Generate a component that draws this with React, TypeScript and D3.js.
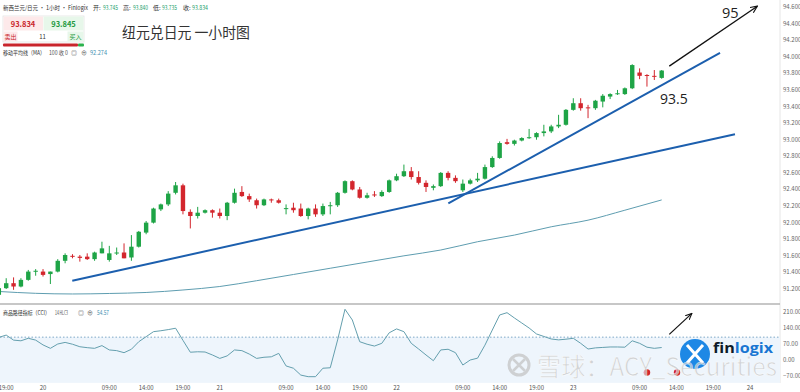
import React from 'react';
import * as d3 from 'd3';

// ---- data ----
const candleStart = -1; // first candle index (hour offset from 19th 19:00)
const candleOpen = [91.13, 91.21, 91.27, 91.23, 91.31, 91.41, 91.41, 91.38, 91.41, 91.54, 91.60, 91.59, 91.59, 91.56, 91.63, 91.55, 91.63, 91.64, 91.58, 91.71, 91.88, 92.00, 92.16, 92.22, 92.36, 92.45, 92.13, 92.08, 92.12, 92.15, 92.12, 92.08, 92.24, 92.37, 92.32, 92.27, 92.21, 92.28, 92.27, 92.17, 92.18, 92.17, 92.08, 92.17, 92.10, 92.20, 92.21, 92.36, 92.50, 92.40, 92.30, 92.34, 92.32, 92.37, 92.51, 92.56, 92.62, 92.55, 92.48, 92.42, 92.44, 92.60, 92.54, 92.39, 92.47, 92.51, 92.53, 92.67, 92.78, 92.97, 92.95, 92.99, 93.02, 93.03, 93.08, 93.10, 93.16, 93.18, 93.36, 93.44, 93.39, 93.38, 93.46, 93.52, 93.55, 93.55, 93.62, 93.81, 93.78, 93.77, 93.745];
const candleHigh = [91.23, 91.33, 91.34, 91.33, 91.43, 91.44, 91.44, 91.41, 91.56, 91.63, 91.62, 91.61, 91.63, 91.65, 91.77, 91.72, 91.70, 91.75, 91.85, 91.90, 92.02, 92.18, 92.23, 92.38, 92.49, 92.47, 92.16, 92.19, 92.16, 92.16, 92.17, 92.25, 92.41, 92.44, 92.35, 92.29, 92.29, 92.29, 92.29, 92.22, 92.24, 92.23, 92.18, 92.22, 92.23, 92.25, 92.37, 92.51, 92.51, 92.43, 92.36, 92.38, 92.39, 92.52, 92.59, 92.70, 92.67, 92.62, 92.51, 92.46, 92.61, 92.62, 92.57, 92.52, 92.53, 92.60, 92.70, 92.80, 92.98, 93.01, 93.00, 93.03, 93.13, 93.09, 93.18, 93.18, 93.30, 93.37, 93.50, 93.50, 93.42, 93.48, 93.55, 93.56, 93.60, 93.63, 93.91, 93.86, 93.79, 93.84, 93.840];
const candleLow = [91.12, 91.20, 91.19, 91.22, 91.30, 91.36, 91.35, 91.26, 91.40, 91.51, 91.57, 91.53, 91.55, 91.54, 91.63, 91.53, 91.61, 91.57, 91.54, 91.70, 91.86, 91.99, 92.14, 92.20, 92.34, 92.10, 91.93, 92.05, 92.11, 92.06, 92.05, 92.03, 92.23, 92.31, 92.25, 92.17, 92.20, 92.24, 92.23, 92.10, 92.12, 92.07, 92.04, 92.07, 92.08, 92.10, 92.19, 92.35, 92.39, 92.29, 92.29, 92.31, 92.31, 92.36, 92.50, 92.55, 92.52, 92.46, 92.37, 92.39, 92.43, 92.51, 92.48, 92.37, 92.46, 92.49, 92.52, 92.66, 92.77, 92.94, 92.93, 92.98, 93.01, 93.00, 93.04, 93.08, 93.14, 93.17, 93.35, 93.35, 93.26, 93.36, 93.39, 93.49, 93.54, 93.54, 93.61, 93.73, 93.64, 93.72, 93.735];
const candleClose = [91.21, 91.27, 91.23, 91.31, 91.41, 91.42, 91.37, 91.41, 91.54, 91.61, 91.595, 91.575, 91.56, 91.64, 91.69, 91.63, 91.64, 91.57, 91.71, 91.89, 92.00, 92.17, 92.22, 92.35, 92.45, 92.14, 92.08, 92.12, 92.15, 92.12, 92.08, 92.24, 92.36, 92.32, 92.28, 92.21, 92.28, 92.27, 92.24, 92.175, 92.15, 92.08, 92.17, 92.10, 92.20, 92.21, 92.36, 92.50, 92.40, 92.30, 92.33, 92.33, 92.37, 92.51, 92.56, 92.62, 92.55, 92.48, 92.43, 92.44, 92.60, 92.54, 92.50, 92.47, 92.51, 92.53, 92.67, 92.78, 92.96, 92.95, 92.99, 93.02, 93.03, 93.08, 93.10, 93.16, 93.18, 93.36, 93.44, 93.38, 93.38, 93.47, 93.53, 93.55, 93.56, 93.62, 93.90, 93.77, 93.77, 93.76, 93.834];
const cciValues = [99, 109, 87, 84, 95, 87, 66, 51, 70, 77, 69, 58, 54, 51, 63, 44, 41, 32, 47, 80, 102, 124, 128, 133, 139, 86, 34, 36, 35, 22, 7, 18, 44, 41, 26, 7, 12, 14, 29, -26, -36, -66, -73, -73, -36, -34, 88, 222, 175, 80, 69, 61, 73, 119, 136, 124, 73, 48, 22, -3, 44, 47, 32, -22, 0, 8, 65, 131, 197, 207, 184, 162, 140, 114, 103, 92, 88, 91, 95, 73, 48, 53, 55, 57, 57, 56, 84, 73, 56, 51, 54.57];
const maIndex = [-1, 4, 9, 14, 19, 24, 29, 34, 39, 44, 49, 54, 59, 64, 69, 74, 79, 84, 89];
const maValues = [91.17, 91.148, 91.14, 91.146, 91.158, 91.188, 91.23, 91.30, 91.375, 91.45, 91.525, 91.60, 91.67, 91.77, 91.85, 91.95, 92.03, 92.15, 92.274];
const priceTicks = [91.2, 91.4, 91.6, 91.8, 92.0, 92.2, 92.4, 92.6, 92.8, 93.0, 93.2, 93.4, 93.6, 93.8, 94.0, 94.2, 94.4, 94.6];
const cciTicks = [-70, 0, 70, 140, 210];
const timeTickIndex = [0, 5, 14, 19, 24, 29, 38, 43, 48, 53, 62, 67, 72, 77, 86, 91, 96, 101];
const timeTickLabels = ['19:00', '20', '09:00', '14:00', '19:00', '21', '09:00', '14:00', '19:00', '22', '09:00', '14:00', '19:00', '23', '09:00', '14:00', '19:00', '24'];
// trend lines: [startIndex, startPrice, endIndex, endPrice]
const trendLineA = [8.97, 91.30, 98.95, 93.067];
const trendLineB = [60.03, 92.233, 96.92, 94.047];
const arrowMain = [90.03, 93.887, 101.99, 94.61];
const arrowCci = [90.03, 112, 93.1, 204];
const label95 = [98.3, 94.465, '95'];
const label935 = [88.77, 93.429, '93.5'];

const FONT = '"Noto Sans CJK SC", "Noto Sans", sans-serif';
const UP = '#1ea446';
const DOWN = '#d3262d';
const TREND = '#1c5fae';

export default function App() {
  const x = d3.scaleLinear().domain([0, 101]).range([6.2, 750.07]);
  const y = d3.scaleLinear().domain([91.2, 94.6]).range([289, 7]);
  const yc = d3.scaleLinear().domain([-70, 210]).range([376, 312]);
  const fmtP = d3.format('.3f');
  const fmtC = d3.format('.2f');

  const candles = candleOpen.map((o, k) => ({
    i: candleStart + k, o, h: candleHigh[k], l: candleLow[k], c: candleClose[k],
  }));

  const maLine = d3.line<number>()
    .x((_, k) => x(maIndex[k]))
    .y((d) => y(d))
    .curve(d3.curveMonotoneX)(maValues) || '';

  const cciLine = d3.line<number>()
    .x((_, k) => x(candleStart + k))
    .y((d) => yc(d))(cciValues) || '';

  const bw = 4.4;
  const fit = { lengthAdjust: 'spacingAndGlyphs' as const };

  return (
    <svg width={800} height={392} style={{ position: 'absolute', left: 0, top: 0, background: '#fff' }} fontFamily={FONT}>
      <defs>
        <clipPath id="mainClip"><rect x={0} y={0} width={780} height={303} /></clipPath>
        <clipPath id="cciClip"><rect x={0} y={305} width={780} height={78} /></clipPath>
        <marker id="arr" viewBox="0 0 10 10" refX={9} refY={5} markerWidth={6} markerHeight={6} orient="auto">
          <path d="M0,1 L9,5 L0,9" fill="none" stroke="#111" strokeWidth={1.5} />
        </marker>
      </defs>
      <rect x={0} y={0} width={800} height={392} fill="#fff" />

      {/* right axis border */}
      <line x1={780} x2={780} y1={0} y2={383} stroke="#e6e6e6" />

      {/* main panel */}
      <g clipPath="url(#mainClip)">
        <path d={maLine} fill="none" stroke="#5e9db0" strokeWidth={1} />
        {candles.map((d) => {
          const up = d.c >= d.o;
          const col = up ? UP : DOWN;
          const cx = x(d.i);
          const top = y(Math.max(d.o, d.c));
          const bot = y(Math.min(d.o, d.c));
          return (
            <g key={d.i}>
              <line x1={cx} x2={cx} y1={y(d.h)} y2={y(d.l)} stroke={col} strokeWidth={1} />
              <rect x={cx - bw / 2} y={top} width={bw} height={Math.max(1, bot - top)} fill={col} />
            </g>
          );
        })}
        <line x1={x(trendLineA[0])} y1={y(trendLineA[1])} x2={x(trendLineA[2])} y2={y(trendLineA[3])} stroke={TREND} strokeWidth={2} />
        <line x1={x(trendLineB[0])} y1={y(trendLineB[1])} x2={x(trendLineB[2])} y2={y(trendLineB[3])} stroke={TREND} strokeWidth={2} />
        <line x1={x(arrowMain[0])} y1={y(arrowMain[1])} x2={x(arrowMain[2])} y2={y(arrowMain[3])} stroke="#111" strokeWidth={1.3} markerEnd="url(#arr)" />
      </g>
      <text x={x(label95[0] as number)} y={y(label95[1] as number)} fontSize={14.5} fill="#222" textAnchor="middle" fontFamily="'Open Sans', sans-serif">{label95[2]}</text>
      <text x={x(label935[0] as number)} y={y(label935[1] as number)} fontSize={14} fill="#222" fontFamily="'Open Sans', sans-serif">{label935[2]}</text>

      {/* price axis */}
      {priceTicks.map((t) => (
        <text key={t} x={783} y={y(t) + 2} fontSize={6} fill="#666">{fmtP(t)}</text>
      ))}

      {/* header */}
      <text x={3} y={10} fontSize={6} fill="#333" textLength={85} {...fit}>新西兰元/日元 · 1小时 · Finlogix</text>
      <text x={93} y={10} fontSize={6} fill="#333">开:</text>
      <text x={103} y={10} fontSize={6} fill="#22a06b" textLength={15} {...fit}>93.745</text>
      <text x={123} y={10} fontSize={6} fill="#333">高:</text>
      <text x={133} y={10} fontSize={6} fill="#22a06b" textLength={15} {...fit}>93.840</text>
      <text x={153} y={10} fontSize={6} fill="#333">低:</text>
      <text x={162} y={10} fontSize={6} fill="#22a06b" textLength={15} {...fit}>93.735</text>
      <text x={183} y={10} fontSize={6} fill="#333">收:</text>
      <text x={192} y={10} fontSize={6} fill="#22a06b" textLength={16} {...fit}>93.834</text>

      {/* buy/sell box */}
      <rect x={3} y={16} width={81} height={26} fill="#fff" stroke="#e3e3e3" strokeWidth={0.8} />
      <rect x={3.5} y={16.5} width={39.5} height={14} fill="#fde9ea" />
      <rect x={43.5} y={16.5} width={40} height={14} fill="#e7f7ea" />
      <text x={23} y={26.5} fontSize={7.5} fill="#c9252c" textAnchor="middle" fontWeight={600}>93.834</text>
      <text x={63.5} y={26.5} fontSize={7.5} fill="#1e9a3e" textAnchor="middle" fontWeight={600}>93.845</text>
      <rect x={3.5} y={31.5} width={14} height={10} fill="#fde9ea" />
      <rect x={67.5} y={31.5} width={16} height={10} fill="#e7f7ea" />
      <text x={10.5} y={39} fontSize={6} fill="#c9252c" textAnchor="middle">卖出</text>
      <text x={42.5} y={39} fontSize={6} fill="#333" textAnchor="middle">11</text>
      <text x={75.5} y={39} fontSize={6} fill="#1e9a3e" textAnchor="middle">买入</text>
      <rect x={3} y={43.5} width={75} height={3} fill="#c9252c" rx={1} />
      <rect x={78} y={43.5} width={6} height={3} fill="#2bb24c" rx={1} />

      <text x={3} y={54.5} fontSize={6} fill="#333" textLength={42} {...fit}>移动平均线（MA）</text>
      <text x={49} y={54.5} fontSize={6} fill="#555" textLength={19} {...fit}>100 收 0</text>
      <text x={71} y={54.5} fontSize={6} fill="#555">◎</text>
      <text x={81} y={54.5} fontSize={6} fill="#555">⊕</text>
      <text x={90} y={54.5} fontSize={6} fill="#3d8fb0" textLength={17} {...fit}>92.274</text>

      {/* title */}
      <text x={122} y={38} fontSize={14.5} fill="#333" textLength={128} {...fit}>纽元兑日元 一小时图</text>

      {/* separator */}
      <line x1={0} x2={780} y1={304} y2={304} stroke="#b5b5b5" strokeWidth={1.5} />

      {/* CCI panel */}
      <g clipPath="url(#cciClip)">
        <rect x={0} y={yc(100)} width={780} height={yc(-100) - yc(100)} fill="#eef5fc" />
        <line x1={0} x2={780} y1={yc(100)} y2={yc(100)} stroke="#5f93b8" strokeWidth={0.8} strokeDasharray="1.5,2" />
        <path d={cciLine} fill="none" stroke="#649fae" strokeWidth={1} />
      </g>
      <line x1={x(arrowCci[0])} y1={yc(arrowCci[1])} x2={x(arrowCci[2])} y2={yc(arrowCci[3])} stroke="#111" strokeWidth={1.2} markerEnd="url(#arr)" />
      {cciTicks.map((t) => (
        <text key={t} x={783} y={yc(t) + 2} fontSize={6} fill="#666">{fmtC(t)}</text>
      ))}
      <text x={3} y={315} fontSize={6} fill="#333" textLength={47} {...fit}>商品路径指标（CCI）</text>
      <text x={55} y={315} fontSize={6} fill="#555" textLength={13} {...fit}>14 HLC3</text>
      <text x={78} y={315} fontSize={6} fill="#555">◎</text>
      <text x={87} y={315} fontSize={6} fill="#555">⊕</text>
      <text x={97} y={315} fontSize={6} fill="#3d8fb0" textLength={12} {...fit}>54.57</text>

      {/* time axis */}
      {timeTickIndex.map((t, k) => (
        <text key={k} x={x(t)} y={390} fontSize={6} fill="#555" textAnchor="middle">{timeTickLabels[k]}</text>
      ))}

      {/* logo + markers */}
      <circle cx={647} cy={372.5} r={3.2} fill="#d3262d" />
      <circle cx={677} cy={372.5} r={3.2} fill="#d3262d" />
      <circle cx={695} cy={354} r={15} fill="#1e88e5" />
      <path d="M687,345 L703,363 M703,345 L687,363" stroke="#fff" strokeWidth={3} />
      <text x={713} y={353} fontSize={15} fontWeight={700} fill="#0d1b2a" fontFamily="'Open Sans', sans-serif" textLength={60} {...fit}>fin<tspan fill="#1976d2">logix</tspan></text>

      {/* watermark */}
      <g opacity={0.75}>
        <circle cx={519} cy={365} r={10} fill="none" stroke="#c4c4c4" strokeWidth={3} />
        <path d="M513,359 L525,371 M525,359 L513,371" stroke="#c4c4c4" strokeWidth={2.5} />
        <text x={537} y={376} fontSize={25} fill="#c8c8c8" stroke="#fff" strokeWidth={0.6} textLength={240} {...fit}>雪球：ACY_Securities</text>
      </g>
    </svg>
  );
}
